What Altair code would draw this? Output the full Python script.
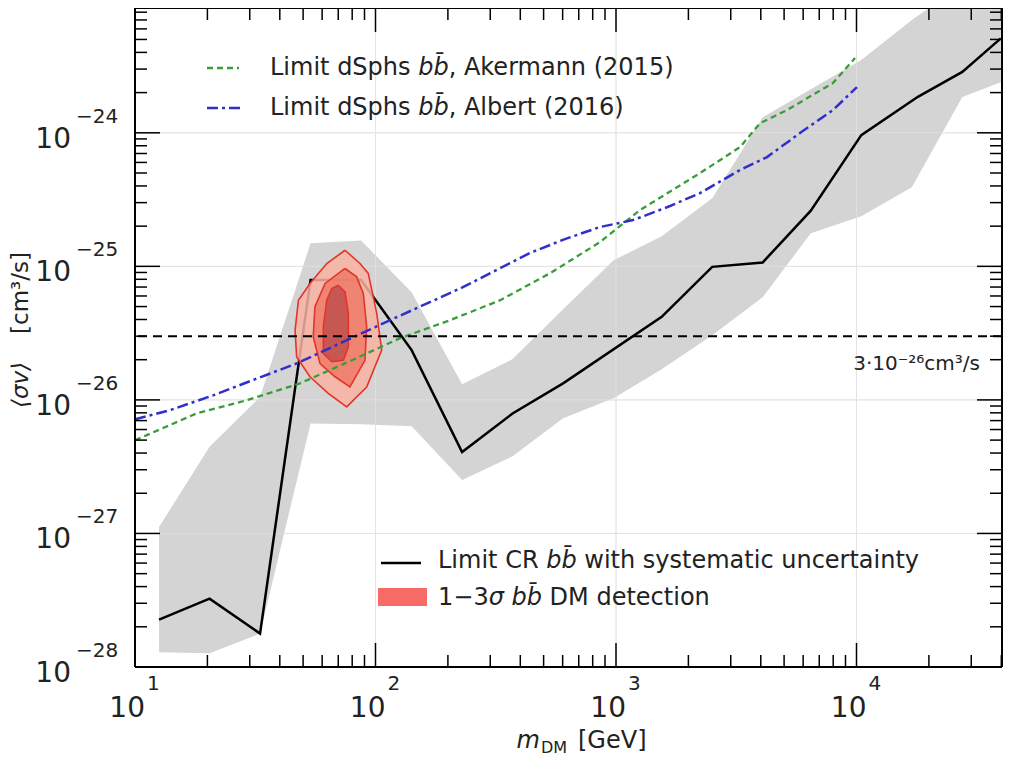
import altair as alt
import pandas as pd

# ---------------- data ----------------
# Limit CR b b-bar with systematic uncertainty (black line)
limit_mass = [12.59, 20.42, 33.11, 53.70, 87.10, 141.3, 229.1, 371.5, 602.6, 1549,
              2512, 4074, 6457, 10470, 18000, 27540, 39810]
limit_sigma = [2.26e-28, 3.25e-28, 1.78e-28, 7.89e-26, 7.89e-26, 2.36e-26, 4.07e-27,
               7.91e-27, 1.33e-26, 4.19e-26, 9.91e-26, 1.07e-25, 2.61e-25, 9.61e-25,
               1.86e-24, 2.86e-24, 5.09e-24]

# systematic uncertainty band (grey)
band_mass = [12.59, 20.42, 33.11, 53.70, 87.10, 141.3, 229.1, 371.5, 602.6, 977.2,
             1549, 2512, 4074, 6457, 10470, 16980, 27540, 39810]
band_low = [1.29e-28, 1.27e-28, 1.78e-28, 6.65e-27, 6.58e-27, 6.35e-27, 2.51e-27,
            3.78e-27, 7.29e-27, 1.03e-26, 1.70e-26, 3.05e-26, 5.87e-26, 1.77e-25,
            2.37e-25, 3.91e-25, 1.85e-24, 2.39e-24]
band_high = [1.12e-27, 4.45e-27, 1.05e-26, 1.49e-25, 1.56e-25, 6.41e-26, 1.31e-26,
             2.02e-26, 4.78e-26, 1.11e-25, 1.68e-25, 3.24e-25, 1.31e-24, 2.12e-24,
             3.51e-24, 6.98e-24, 1.28e-23, 1.97e-23]

# Limit dSphs, Akermann (2015)  (green dashed)
ak_mass = [10, 18.1, 29.2, 48.5, 78.3, 126.5, 204, 330, 532, 859, 1259, 2234, 3280,
           3972, 5140, 7980, 9860]
ak_sigma = [4.99e-27, 7.94e-27, 9.95e-27, 1.33e-26, 1.95e-26, 2.90e-26, 3.95e-26,
            5.58e-26, 8.89e-26, 1.52e-25, 2.64e-25, 4.99e-25, 7.82e-25, 1.18e-24,
            1.48e-24, 2.36e-24, 3.63e-24]

# Limit dSphs, Albert (2016)  (blue dash-dot)
al_mass = [10, 13.98, 21.1, 31.0, 47.2, 76.0, 122.7, 231, 439, 613, 857, 1177, 1630,
           2234, 3280, 4246, 5821, 7980, 10040]
al_sigma = [7.16e-27, 8.38e-27, 1.08e-26, 1.41e-26, 1.88e-26, 2.80e-26, 4.17e-26,
            6.98e-26, 1.26e-25, 1.60e-25, 1.97e-25, 2.22e-25, 2.77e-25, 3.53e-25,
            5.26e-25, 6.58e-25, 9.95e-25, 1.48e-24, 2.20e-24]

# 1-3 sigma detection contours
c3_mass = [74.7, 86.2, 93.3, 101.2, 106.1, 91.9, 75.9, 63.6, 53.4, 47.0, 46.3, 47.8, 53.4, 62.7]
c3_sigma = [1.32e-25, 1.05e-25, 8.85e-26, 4.44e-26, 2.36e-26, 1.25e-26, 8.87e-27,
            1.12e-26, 1.49e-26, 2.10e-26, 3.33e-26, 5.58e-26, 7.45e-26, 1.05e-25]
c2_mass = [74.7, 83.5, 89.0, 91.9, 90.4, 78.3, 67.9, 58.8, 55.1, 56.0, 61.7]
c2_sigma = [9.64e-26, 8.34e-26, 6.27e-26, 3.52e-26, 1.98e-26, 1.25e-26, 1.49e-26,
            1.87e-26, 2.96e-26, 4.98e-26, 7.45e-26]
c1_mass = [70.0, 74.7, 77.1, 77.1, 73.5, 65.8, 60.7, 60.7, 62.7, 65.8]
c1_sigma = [7.22e-26, 6.44e-26, 4.44e-26, 2.49e-26, 1.98e-26, 1.93e-26, 2.23e-26,
            3.52e-26, 5.58e-26, 6.82e-26]

thermal = [3e-26]

# axis ticks
x_major = [10, 100, 1000, 10000]
x_major_exp = ["1", "2", "3", "4"]
x_minor = [k * 10 ** e for e in (1, 2, 3) for k in range(2, 10)] + [20000, 30000, 40000]
y_major = [1e-28, 1e-27, 1e-26, 1e-25, 1e-24]
y_major_exp = ["\u221228", "\u221227", "\u221226", "\u221225", "\u221224"]
y_minor = [k * 10.0 ** e for e in (-28, -27, -26, -25, -24) for k in range(2, 10)]

# ---------------- chart ----------------
W, H = 867, 659
FONT = "DejaVu Sans"
TXT = "#222222"
xs = alt.Scale(type="log", domain=[10, 40270], nice=False)
ys = alt.Scale(type="log", domain=[1e-28, 8.6e-24], nice=False)


def X(f="m"):
    return alt.X(f"{f}:Q", scale=xs, axis=None)


def Y(f="s"):
    return alt.Y(f"{f}:Q", scale=ys, axis=None)


def poly(mass, sig):
    n = len(mass)
    return pd.DataFrame({"m": mass + [mass[0]], "s": sig + [sig[0]], "i": list(range(n + 1))})


one = pd.DataFrame({"a": [0]})
layers = []

# grid
layers.append(alt.Chart(pd.DataFrame({"m": x_major[1:]})).mark_rule(color="#e2e2e2", strokeWidth=1).encode(x=X()))
layers.append(alt.Chart(pd.DataFrame({"s": y_major[1:]})).mark_rule(color="#e2e2e2", strokeWidth=1).encode(y=Y()))

# band
band_df = pd.DataFrame({"m": band_mass, "lo": band_low, "hi": band_high})
layers.append(alt.Chart(band_df).mark_area(color="#d4d4d4", clip=True).encode(
    x=X(), y=Y("lo"), y2=alt.Y2("hi:Q")))

# faint grid visible over the band
layers.append(alt.Chart(pd.DataFrame({"m": x_major[1:]})).mark_rule(color="#e6e6e6", strokeWidth=1, opacity=0.6).encode(x=X()))
layers.append(alt.Chart(pd.DataFrame({"s": y_major[1:]})).mark_rule(color="#e6e6e6", strokeWidth=1, opacity=0.6).encode(y=Y()))

# black limit line
lim_df = pd.DataFrame({"m": limit_mass, "s": limit_sigma, "i": list(range(len(limit_mass)))})
layers.append(alt.Chart(lim_df).mark_line(color="black", strokeWidth=2.5, clip=True).encode(
    x=X(), y=Y(), order="i:Q"))

# contours
for mass, sig, fill in [(c3_mass, c3_sigma, "#f8b3a1"), (c2_mass, c2_sigma, "#ef7a68"),
                        (c1_mass, c1_sigma, "#bf4f4c")]:
    layers.append(alt.Chart(poly(mass, sig)).mark_line(
        fill=fill, fillOpacity=0.85, stroke="#e4342a", strokeWidth=1.6, clip=True).encode(
        x=X(), y=Y(), order="i:Q"))

# dSph limits
ak_df = pd.DataFrame({"m": ak_mass, "s": ak_sigma, "i": list(range(len(ak_mass)))})
layers.append(alt.Chart(ak_df).mark_line(color="#3a9d3a", strokeWidth=2.3, strokeDash=[6, 4], clip=True).encode(
    x=X(), y=Y(), order="i:Q"))
al_df = pd.DataFrame({"m": al_mass, "s": al_sigma, "i": list(range(len(al_mass)))})
layers.append(alt.Chart(al_df).mark_line(color="#2f2fcc", strokeWidth=2.5, strokeDash=[11, 4, 3, 4], clip=True).encode(
    x=X(), y=Y(), order="i:Q"))

# thermal cross section
th_df = pd.DataFrame({"s": thermal})
layers.append(alt.Chart(th_df).mark_rule(color="black", strokeWidth=2, strokeDash=[9, 6]).encode(y=Y()))
layers.append(alt.Chart(th_df).mark_text(
    text="3\u00b710\u207b\u00b2\u2076cm\u00b3/s", font=FONT, fontSize=20, align="right",
    baseline="middle", dy=28, color=TXT).encode(y=Y(), x=alt.value(845)))

# ticks (inward, all four sides)
xM = pd.DataFrame({"m": x_major, "e": x_major_exp})
xm = pd.DataFrame({"m": x_minor})
yM = pd.DataFrame({"s": y_major, "e": y_major_exp})
ym = pd.DataFrame({"s": y_minor})
tk = dict(color="black", strokeWidth=1.5)
layers += [
    alt.Chart(xM).mark_rule(**tk).encode(x=X(), y=alt.value(H), y2=alt.value(H - 24)),
    alt.Chart(xM).mark_rule(**tk).encode(x=X(), y=alt.value(0), y2=alt.value(24)),
    alt.Chart(xm).mark_rule(**tk).encode(x=X(), y=alt.value(H), y2=alt.value(H - 12)),
    alt.Chart(xm).mark_rule(**tk).encode(x=X(), y=alt.value(0), y2=alt.value(12)),
    alt.Chart(yM).mark_rule(**tk).encode(y=Y(), x=alt.value(0), x2=alt.value(25)),
    alt.Chart(yM).mark_rule(**tk).encode(y=Y(), x=alt.value(W), x2=alt.value(W - 25)),
    alt.Chart(ym).mark_rule(**tk).encode(y=Y(), x=alt.value(0), x2=alt.value(12)),
    alt.Chart(ym).mark_rule(**tk).encode(y=Y(), x=alt.value(W), x2=alt.value(W - 12)),
]

# frame
fr = dict(color="black", strokeWidth=2)
layers += [
    alt.Chart(one).mark_rule(**fr).encode(x=alt.value(0), x2=alt.value(W), y=alt.value(0)),
    alt.Chart(one).mark_rule(**fr).encode(x=alt.value(0), x2=alt.value(W), y=alt.value(H)),
    alt.Chart(one).mark_rule(**fr).encode(y=alt.value(0), y2=alt.value(H), x=alt.value(0)),
    alt.Chart(one).mark_rule(**fr).encode(y=alt.value(0), y2=alt.value(H), x=alt.value(W)),
]

# tick labels
layers += [
    alt.Chart(xM).mark_text(text="10", font=FONT, fontSize=28, align="right", baseline="alphabetic",
                            dx=10, color=TXT).encode(x=X(), y=alt.value(H + 50)),
    alt.Chart(xM).mark_text(font=FONT, fontSize=20, align="left", baseline="alphabetic",
                            dx=12, color=TXT).encode(x=X(), y=alt.value(H + 23), text="e:N"),
    alt.Chart(yM).mark_text(text="10", font=FONT, fontSize=28, align="right", baseline="alphabetic",
                            dy=15, color=TXT).encode(y=Y(), x=alt.value(-64)),
    alt.Chart(yM).mark_text(font=FONT, fontSize=20, align="left", baseline="alphabetic",
                            dy=-10, color=TXT).encode(y=Y(), x=alt.value(-59), text="e:N"),
]

# axis titles
layers += [
    alt.Chart(one).mark_text(text="m", font=FONT, fontSize=24, fontStyle="italic", align="right",
                             baseline="alphabetic", color=TXT).encode(x=alt.value(405), y=alt.value(740)),
    alt.Chart(one).mark_text(text="DM", font=FONT, fontSize=16, align="left",
                             baseline="alphabetic", color=TXT).encode(x=alt.value(406), y=alt.value(745)),
    alt.Chart(one).mark_text(text="[GeV]", font=FONT, fontSize=24, align="left",
                             baseline="alphabetic", color=TXT).encode(x=alt.value(443), y=alt.value(740)),
    alt.Chart(one).mark_text(text="\u27e8\u03c3v\u27e9", font=FONT, fontSize=23, fontStyle="italic",
                             angle=270, align="center", baseline="middle", color=TXT).encode(
        x=alt.value(-114), y=alt.value(377)),
    alt.Chart(one).mark_text(text="[cm\u00b3/s]", font=FONT, fontSize=23, angle=270, align="center",
                             baseline="middle", color=TXT).encode(x=alt.value(-114), y=alt.value(285)),
]

# legends (text pieces: upright / italic math / upright)
FS = 24
EM = FS / 2048.0
SP = 651 * EM
W_LIMIT_DSPHS = (1141 + 569 + 1995 + 569 + 803 + 651 + 1300 + 1300 + 1300 + 1298 + 1067) * EM
W_LIMIT_CR = (1141 + 569 + 1995 + 569 + 803 + 651 + 1430 + 1423) * EM
W_BB = (1300 + 1300) * EM
W_13 = (1303 + 1716 + 1303) * EM
W_SIG_BB = (1300 + 651 + 1300 + 1300) * EM

lg = dict(font=FONT, fontSize=FS, align="left", baseline="middle", color=TXT)
lgi = dict(lg, fontStyle="italic")


def text_at(txt, x, y, style):
    return alt.Chart(one).mark_text(text=txt, **style).encode(x=alt.value(x), y=alt.value(y))


T0, T1 = 135, 303
layers += [
    alt.Chart(one).mark_rule(color="#3a9d3a", strokeWidth=2.3, strokeDash=[6, 4]).encode(
        x=alt.value(72), x2=alt.value(104), y=alt.value(60)),
    text_at("Limit dSphs", T0, 60, lg),
    text_at("bb\u0304", T0 + W_LIMIT_DSPHS + SP, 60, lgi),
    text_at(", Akermann (2015)", T0 + W_LIMIT_DSPHS + SP + W_BB, 60, lg),
    alt.Chart(one).mark_rule(color="#2f2fcc", strokeWidth=2.5, strokeDash=[11, 4, 3, 4]).encode(
        x=alt.value(72), x2=alt.value(108), y=alt.value(100)),
    text_at("Limit dSphs", T0, 100, lg),
    text_at("bb\u0304", T0 + W_LIMIT_DSPHS + SP, 100, lgi),
    text_at(", Albert (2016)", T0 + W_LIMIT_DSPHS + SP + W_BB, 100, lg),
    alt.Chart(one).mark_rule(color="black", strokeWidth=2.5).encode(
        x=alt.value(246), x2=alt.value(286), y=alt.value(555)),
    text_at("Limit CR", T1, 553, lg),
    text_at("bb\u0304", T1 + W_LIMIT_CR + SP, 553, lgi),
    text_at("with systematic uncertainty", T1 + W_LIMIT_CR + SP + W_BB + SP, 553, lg),
    alt.Chart(one).mark_rect(color="#f75a55", opacity=0.9).encode(
        x=alt.value(243), x2=alt.value(292), y=alt.value(580), y2=alt.value(598)),
    text_at("1\u22123", T1, 590, lg),
    text_at("\u03c3 bb\u0304", T1 + W_13, 590, lgi),
    text_at("DM detection", T1 + W_13 + W_SIG_BB + SP, 590, lg),
]

chart = alt.layer(*layers).properties(
    width=W, height=H,
    autosize=alt.AutoSizeParams(type="none"),
    padding={"left": 127, "top": 0, "right": 15, "bottom": 90},
).configure_view(stroke=None)

chart.save("out.html", embed_options={"renderer": "svg", "actions": False})
